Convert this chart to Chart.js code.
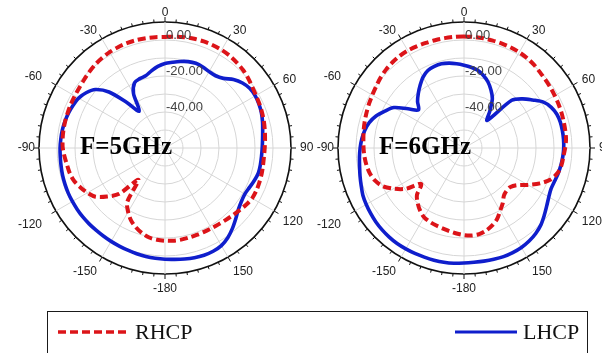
<!DOCTYPE html>
<html>
<head>
<meta charset="utf-8">
<title>RHCP / LHCP radiation patterns</title>
<script src="https://cdn.jsdelivr.net/npm/chart.js@4.4.1/dist/chart.umd.min.js"></script>
<style>
  html, body { margin: 0; padding: 0; background: #fff; }
  #wrap { position: relative; width: 602px; height: 353px; overflow: hidden; background: #fff; }
  #wrap canvas { position: absolute; left: 0; top: 0; }
  #legendBox { position: absolute; left: 47px; top: 311px; width: 541px; height: 60px;
               border: 1.5px solid #1a1a1a; box-sizing: border-box; }
  .legItem { position: absolute; font-family: "Liberation Serif", "Times New Roman", serif;
             font-size: 22px; color: #111; line-height: 22px; }
</style>
</head>
<body>
<div id="wrap">
  <canvas id="pat5" width="602" height="353"></canvas>
  <canvas id="pat6" width="602" height="353"></canvas>
  <div id="legendBox"></div>
  <svg style="position:absolute;left:58px;top:328px" width="72" height="8">
    <line x1="0" y1="4" x2="70" y2="4" stroke="#dc1419" stroke-width="3.5" stroke-dasharray="8 4"/>
  </svg>
  <div class="legItem" style="left:135px;top:321px">RHCP</div>
  <svg style="position:absolute;left:455px;top:328px" width="64" height="8">
    <line x1="0" y1="4" x2="62" y2="4" stroke="#0f1ecc" stroke-width="3"/>
  </svg>
  <div class="legItem" style="left:523px;top:321px">LHCP</div>
</div>
<script>
// Azimuth of each sample, degrees clockwise from the top (0 .. 355, 5 degree steps)
const angles = [
  0, 5, 10, 15, 20, 25, 30, 35, 40, 45, 50, 55,
  60, 65, 70, 75, 80, 85, 90, 95, 100, 105, 110, 115,
  120, 125, 130, 135, 140, 145, 150, 155, 160, 165, 170, 175,
  180, 185, 190, 195, 200, 205, 210, 215, 220, 225, 230, 235,
  240, 245, 250, 255, 260, 265, 270, 275, 280, 285, 290, 295,
  300, 305, 310, 315, 320, 325, 330, 335, 340, 345, 350, 355
];

// Angle tick marks and their printed labels
const angleTicks = [0, 30, 60, 90, 120, 150, 180, 210, 240, 270, 300, 330];
const angleTickLabels = ['0', '30', '60', '90', '120', '150', '-180', '-150', '-120', '-90', '-60', '-30'];

// Radial (dB) labels
const radialTicks = [0, -20, -40];

// 5 GHz, gain in dB
const rhcp5 = [
  1.7, 2.1, 2.5, 2.8, 3.0, 3.0, 2.9, 2.6, 2.0, 1.3, 0.3, -0.8,
  -1.6, -2.1, -2.6, -3.1, -3.7, -4.2, -4.6, -4.8, -4.7, -4.4, -4.2, -4.0,
  -4.1, -5.0, -6.1, -7.0, -7.7, -8.2, -8.5, -8.6, -8.6, -8.5, -8.3, -8.3,
  -8.5, -8.8, -9.5, -11.0, -13.0, -15.5, -19.0, -23.5, -37.0, -24.0, -18.0, -12.8,
  -10.2, -8.2, -6.3, -5.3, -4.8, -4.0, -3.2, -2.9, -2.7, -2.6, -2.5, -2.3,
  -2.1, -1.8, -1.2, -0.4, 0.4, 1.0, 1.5, 1.8, 2.0, 2.0, 1.9, 1.8
];
const lhcp5 = [
  -13.0, -12.2, -11.2, -10.3, -9.9, -10.3, -11.0, -11.0, -9.5, -6.2, -3.8, -2.4,
  -2.1, -2.4, -3.0, -3.9, -4.9, -5.6, -6.0, -6.2, -6.2, -6.3, -7.2, -8.2,
  -8.8, -8.2, -6.8, -4.4, -1.7, 0.8, 2.6, 3.3, 3.4, 3.1, 2.6, 2.1,
  1.8, 1.5, 1.2, 0.8, 0.4, 0.1, -0.1, -0.3, -0.4, -0.4, -0.4, -0.5,
  -0.6, -0.7, -0.9, -1.1, -1.4, -1.6, -1.7, -1.9, -2.1, -2.5, -3.0, -3.7,
  -4.6, -6.5, -9.5, -16.0, -27.0, -35.0, -25.0, -20.0, -19.0, -18.5, -16.5, -14.5
];

// 6 GHz, gain in dB
const rhcp6 = [
  2.0, 1.9, 1.9, 1.8, 1.7, 1.6, 1.4, 1.0, 0.4, -0.4, -1.0, -1.4,
  -1.8, -2.1, -2.4, -2.7, -2.9, -3.1, -3.8, -4.6, -5.0, -6.2, -8.8, -13.5,
  -19.0, -24.0, -26.3, -26.5, -25.5, -22.5, -19.8, -16.5, -14.2, -12.5, -11.4, -11.2,
  -11.6, -12.3, -13.1, -13.8, -14.3, -14.8, -15.6, -17.5, -20.0, -23.0, -29.0, -20.5,
  -14.8, -10.0, -7.3, -5.8, -5.0, -4.5, -4.2, -3.9, -3.4, -2.9, -2.4, -1.8,
  -1.2, -0.4, 0.6, 1.4, 2.0, 2.4, 2.5, 2.3, 2.1, 2.0, 2.0, 2.0
];
const lhcp6 = [
  -14.0, -15.0, -16.2, -18.3, -21.0, -24.5, -28.5, -35.0, -40.0, -22.5, -17.5, -13.5,
  -9.0, -6.5, -5.1, -4.6, -4.5, -4.5, -4.6, -4.9, -5.3, -5.8, -6.4, -6.6,
  -5.6, -3.9, -1.8, 0.4, 2.0, 3.1, 3.8, 4.1, 4.2, 4.0, 3.8, 3.7,
  3.9, 4.3, 4.5, 4.5, 4.5, 4.6, 4.7, 4.8, 4.6, 4.3, 3.9, 3.3,
  2.7, 2.0, 0.8, -0.2, -1.1, -1.7, -2.3, -3.0, -4.0, -5.5, -8.0, -11.5,
  -15.0, -22.0, -27.0, -23.5, -20.5, -17.5, -14.5, -12.5, -11.8, -11.6, -12.1, -13.0
];

const RED = '#dc1419';
const BLUE = '#0f1ecc';

// Rim ticks, angle labels, dB labels and the frequency caption
const polarDecor = {
  id: 'polarDecor',
  afterDraw(chart, args, opts) {
    const s = chart.scales.r;
    const ctx = chart.ctx;
    const R = s.drawingArea;
    ctx.save();

    ctx.strokeStyle = '#111';
    ctx.lineWidth = 1;
    angles.forEach((a, i) => {
      const len = a % 30 === 0 ? 5 : 3;
      const p1 = s.getPointPosition(i, R);
      const p2 = s.getPointPosition(i, R + len);
      ctx.beginPath();
      ctx.moveTo(p1.x, p1.y);
      ctx.lineTo(p2.x, p2.y);
      ctx.stroke();
    });

    // angle labels: side labels hug the rim, lower-half labels hang below it
    ctx.fillStyle = '#222';
    ctx.font = '12px "Liberation Sans", Arial, sans-serif';
    ctx.textBaseline = 'middle';
    angleTicks.forEach((deg, k) => {
      const i = angles.indexOf(deg);
      const txt = angleTickLabels[k];
      const rad = deg * Math.PI / 180;
      const sn = Math.sin(rad), cs = Math.cos(rad);
      let pad = 10, dy = 0;
      if (Math.abs(sn) < 1e-6) {
        pad = cs > 0 ? 3 : 9;
        dy = cs > 0 ? -6 : 6;
      } else if (cs < -1e-6) {
        dy = 6;
      }
      if (Math.abs(cs) < 1e-6) pad = sn > 0 ? 9 : 4;
      else if (sn < -1e-6 && Math.abs(cs) < 0.6) pad += 6;
      const p = s.getPointPosition(i, R + pad);
      ctx.textAlign = Math.abs(sn) < 1e-6 ? 'center' : (sn > 0 ? 'left' : 'right');
      ctx.fillText(txt, p.x, p.y + dy);
    });

    ctx.fillStyle = '#444';
    ctx.font = '13px "Liberation Sans", Arial, sans-serif';
    ctx.textAlign = 'left';
    radialTicks.forEach(v => {
      const d = s.getDistanceFromCenterForValue(v);
      ctx.fillText(v.toFixed(2), s.xCenter + 1, s.yCenter - d - 5);
    });

    ctx.fillStyle = '#000';
    ctx.font = 'bold 25px "Liberation Serif", "Times New Roman", serif';
    ctx.textAlign = 'left';
    ctx.fillText(opts.text, s.xCenter - 85, s.yCenter);
    ctx.restore();
  }
};

function patternChart(id, rhcp, lhcp, caption, padLeft) {
  return new Chart(document.getElementById(id), {
    type: 'radar',
    data: {
      labels: angles.map(String),
      datasets: [
        { label: 'RHCP', data: rhcp, borderColor: RED, borderWidth: 4,
          borderDash: [8, 4], fill: false, pointRadius: 0, tension: 0.3 },
        { label: 'LHCP', data: lhcp, borderColor: BLUE, borderWidth: 3.6,
          fill: false, pointRadius: 0, tension: 0.3 }
      ]
    },
    options: {
      responsive: false,
      animation: false,
      events: [],
      layout: { padding: { left: padLeft, right: 602 - padLeft - 252, top: 22, bottom: 353 - 22 - 252 } },
      plugins: {
        legend: { display: false },
        tooltip: { enabled: false },
        polarDecor: { text: caption }
      },
      scales: {
        r: {
          min: -60,
          max: 10,
          startAngle: 0,
          ticks: { display: false, stepSize: 10 },
          pointLabels: { display: false },
          grid: {
            circular: true,
            color: c => (c.tick && c.tick.value === 10 ? '#111' : '#d6d6d6'),
            lineWidth: c => (c.tick && c.tick.value === 10 ? 1.6 : 1)
          },
          angleLines: {
            color: c => (angles[c.index] % 30 === 0 ? '#d6d6d6' : 'rgba(0,0,0,0)'),
            lineWidth: 1
          }
        }
      }
    },
    plugins: [polarDecor]
  });
}

patternChart('pat5', rhcp5, lhcp5, 'F=5GHz', 39);
patternChart('pat6', rhcp6, lhcp6, 'F=6GHz', 338);
</script>
</body>
</html>
